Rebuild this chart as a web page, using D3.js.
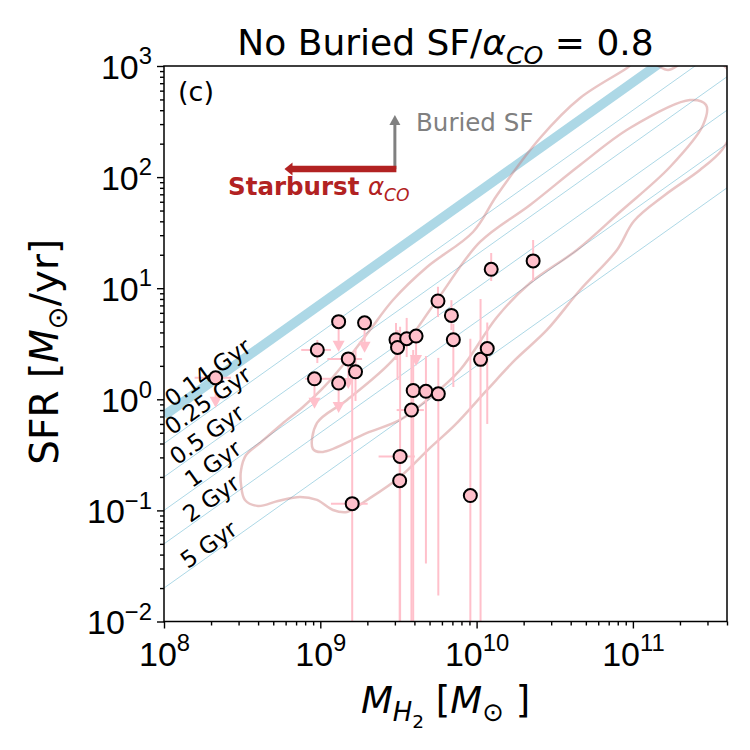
<!DOCTYPE html>
<html>
<head>
<meta charset="utf-8">
<script src="https://cdn.jsdelivr.net/npm/d3@7"></script>
<style>
  body { margin: 0; background: #ffffff; }
  svg { font-family: 'DejaVu Sans', sans-serif; }
</style>
</head>
<body>
<div id="chart"></div>
<script>
// molecular gas mass [Msun] and star formation rate [Msun/yr]
var massH2 = [2.14e8, 9.57e8, 9.18e8, 1.31e9, 1.92e9, 1.51e9, 1.68e9, 1.31e9, 3.05e9, 3.12e9, 3.57e9, 4.10e9, 3.93e9, 4.74e9,
  5.69e9, 3.83e9, 3.24e9, 3.22e9, 9.12e9, 1.60e9, 5.66e9, 6.90e9, 7.10e9, 1.06e10, 1.17e10, 1.24e10, 2.30e10];
var sfr = [1.56, 2.78, 1.53, 5.0, 4.88, 2.31, 1.77, 1.40, 3.44, 2.93, 3.51, 3.71, 1.20, 1.18,
  1.12, 0.80, 0.306, 0.185, 0.136, 0.115, 7.67, 5.69, 3.44, 2.29, 2.86, 14.8, 17.6];
var massLo = [1.57e8, 7.55e8, 7.98e8, null, null, 1.11e9, null, null, null, null, null, null, null, null,
  null, 3.08e9, 2.36e9, null, null, 1.17e9, null, null, null, null, null, null, null];
var massHi = [2.68e8, 1.17e9, 1.17e9, null, null, 1.85e9, null, null, null, null, null, null, null, null,
  null, 4.6e9, 4.03e9, null, null, 2.01e9, null, null, null, null, null, null, null];
var sfrLo = [null, 2.12, null, null, null, null, 0.966, null, 2.26, 1.49, 2.4, null, 0.001, 0.0332,
  0.0171, 0.001, 0.001, 0.001, 0.001, 0.001, 5.5, 4.2, 1.29, 0.001, 0.60, 11.6, 11.6];
var sfrHi = [null, 3.42, null, null, null, null, 2.84, null, 4.86, 4.2, 5.4, null, 2.78, 2.45,
  2.36, 2.5, 4.5, 0.31, 3.5, 1.56, 10.3, 7.8, 4.76, 8.0, 4.91, 20.7, 27.2];
var upperLimit = [1, 0, 1, 1, 1, 1, 0, 1, 0, 0, 0, 1, 0, 0,
  0, 0, 0, 0, 0, 0, 0, 0, 0, 0, 0, 0, 0];

// depletion time lines
var depletionTimes = [0.14, 0.25, 0.5, 1, 2, 5];
var depletionLabels = ['0.14 Gyr', '0.25 Gyr', '0.5 Gyr', '1 Gyr', '2 Gyr', '5 Gyr'];
var labelMass = [1.125e8, 1.125e8, 1.21e8, 1.51e8, 1.47e8, 1.42e8];

// density contours of the comparison sample, [log M, log SFR]
var outerContour = [[8.493,-0.636],[8.525,-0.501],[8.614,-0.393],[8.755,-0.222],[8.889,-0.069],[9.030,0.120],
  [9.171,0.354],[9.318,0.624],[9.465,0.894],[9.683,1.191],[9.977,1.506],[10.131,1.839],[10.406,2.352],
  [10.662,2.712],[10.962,2.982],[11.045,3.072],[11.141,3.018],[11.225,2.964],[11.301,3.018],[11.429,3.144],
  [11.717,2.739],[11.653,2.469],[11.570,2.244],[11.429,2.064],[11.205,1.839],[11.007,1.605],[10.898,1.344],
  [10.662,0.984],[10.450,0.624],[10.246,0.354],[10.067,0.084],[9.862,-0.231],[9.702,-0.438],[9.510,-0.699],
  [9.299,-0.906],[9.171,-1.014],[9.081,-0.996],[8.979,-0.906],[8.870,-0.879],[8.729,-0.915],[8.601,-0.960],
  [8.518,-0.906],[8.493,-0.771]];
var innerContour = [[8.953,-0.447],[8.979,-0.213],[9.171,-0.006],[9.465,0.354],[9.747,0.894],[10.022,1.416],
  [10.342,1.749],[10.662,2.109],[10.981,2.442],[11.365,2.694],[11.468,2.649],[11.449,2.469],[11.237,2.091],
  [10.917,1.686],[10.642,1.344],[10.342,1.047],[10.131,0.741],[9.894,0.264],[9.683,-0.006],[9.510,-0.186],
  [9.299,-0.303],[9.017,-0.474]];

// annotation arrows
var arrowOrigin = [3e9, 118];
var starburstMass = 5.9e8;
var buriedSfr = 362;

var xTickValues = [1e8, 1e9, 1e10, 1e11];
var xTickExponents = ['8', '9', '10', '11'];
var yTickValues = [1e-2, 1e-1, 1e0, 1e1, 1e2, 1e3];
var yTickExponents = ['\u22122', '\u22121', '0', '1', '2', '3'];

var margin = { top: 66, right: 23, bottom: 128.5, left: 164 };
var width = 750 - margin.left - margin.right;
var height = 750 - margin.top - margin.bottom;
var pink = '#ffc0cb';
var contourColor = 'rgb(200,110,110)';

var x = d3.scaleLog().domain([1e8, 4e11]).range([0, width]);
var y = d3.scaleLog().domain([1e-2, 1e3]).range([height, 0]);

var svg = d3.select('#chart').append('svg')
    .attr('width', 750)
    .attr('height', 750)
  .append('g')
    .attr('transform', 'translate(' + margin.left + ',' + margin.top + ')');

svg.append('defs').append('clipPath')
    .attr('id', 'plot-clip')
  .append('rect')
    .attr('width', width)
    .attr('height', height);

// text with sub/superscripts, parts = {t, level, italic, bold}
function richText(sel, parts, fontSize) {
  var text = sel.append('text').attr('font-size', fontSize);
  var offsets = { '0': 0, '1': -0.42, '-1': 0.24, '-2': 0.42 };
  var sizes = { '0': 1, '1': 0.7, '-1': 0.7, '-2': 0.5 };
  var current = 0;
  parts.forEach(function(p) {
    var level = p.level || 0;
    var off = offsets[level] * fontSize;
    text.append('tspan')
      .attr('dy', off - current)
      .attr('font-size', sizes[level] * fontSize)
      .attr('font-style', p.italic ? 'italic' : 'normal')
      .attr('font-weight', p.bold ? 'bold' : 'normal')
      .text(p.t);
    current = off;
  });
  return text;
}

var plot = svg.append('g').attr('clip-path', 'url(#plot-clip)');

// depletion time lines
var massRange = x.domain();
var lineGen = d3.line()
  .x(function(d) { return x(d[0]); })
  .y(function(d) { return y(d[1]); });

plot.selectAll('path.depletion')
    .data(depletionTimes)
  .enter().append('path')
    .attr('class', 'depletion')
    .attr('d', function(t) {
      return lineGen(massRange.map(function(m) { return [m, m / (t * 1e9)]; }));
    })
    .attr('fill', 'none')
    .attr('stroke', '#add8e6')
    .attr('stroke-width', function(t, i) { return i == 0 ? 9.5 : 1; });

// contours
var contourLine = d3.line()
  .x(function(d) { return x(Math.pow(10, d[0])); })
  .y(function(d) { return y(Math.pow(10, d[1])); })
  .curve(d3.curveCatmullRomClosed.alpha(0.5));

plot.selectAll('path.contour')
    .data([outerContour, innerContour])
  .enter().append('path')
    .attr('class', 'contour')
    .attr('d', contourLine)
    .attr('fill', 'none')
    .attr('stroke', contourColor)
    .attr('stroke-opacity', 0.4)
    .attr('stroke-width', 2.5);

// error bars
var points = massH2.map(function(m, i) {
  return { m: m, s: sfr[i], mLo: massLo[i], mHi: massHi[i], sLo: sfrLo[i], sHi: sfrHi[i], lim: upperLimit[i] };
});

plot.selectAll('line.xerr')
    .data(points.filter(function(d) { return d.mLo != null; }))
  .enter().append('line')
    .attr('class', 'xerr')
    .attr('x1', function(d) { return x(d.mLo); })
    .attr('x2', function(d) { return x(d.mHi); })
    .attr('y1', function(d) { return y(d.s); })
    .attr('y2', function(d) { return y(d.s); })
    .attr('stroke', pink)
    .attr('stroke-width', 2);

plot.selectAll('line.yerr')
    .data(points.filter(function(d) { return d.sLo != null || d.sHi != null; }))
  .enter().append('line')
    .attr('class', 'yerr')
    .attr('x1', function(d) { return x(d.m); })
    .attr('x2', function(d) { return x(d.m); })
    .attr('y1', function(d) { return y(d.sLo != null ? d.sLo : d.s); })
    .attr('y2', function(d) { return y(d.sHi != null ? d.sHi : d.s); })
    .attr('stroke', pink)
    .attr('stroke-width', 2);

// upper limit arrows
var limits = points.filter(function(d) { return d.lim; });
plot.selectAll('line.lim')
    .data(limits)
  .enter().append('line')
    .attr('class', 'lim')
    .attr('x1', function(d) { return x(d.m); })
    .attr('x2', function(d) { return x(d.m); })
    .attr('y1', function(d) { return y(d.s); })
    .attr('y2', function(d) { return y(d.s) + 20; })
    .attr('stroke', pink)
    .attr('stroke-width', 2);

plot.selectAll('path.lim')
    .data(limits)
  .enter().append('path')
    .attr('class', 'lim')
    .attr('d', function(d) {
      var cx = x(d.m), ty = y(d.s) + 30;
      return 'M' + (cx - 6) + ',' + (ty - 11) + 'L' + (cx + 6) + ',' + (ty - 11) + 'L' + cx + ',' + ty + 'Z';
    })
    .attr('fill', pink);

// points
plot.selectAll('circle.galaxy')
    .data(points)
  .enter().append('circle')
    .attr('class', 'galaxy')
    .attr('cx', function(d) { return x(d.m); })
    .attr('cy', function(d) { return y(d.s); })
    .attr('r', 6.5)
    .attr('fill', pink)
    .attr('stroke', '#000000')
    .attr('stroke-width', 2);

// depletion labels
var angle = -Math.atan((y(1) - y(10)) / (x(1e9) - x(1e8))) * 180 / Math.PI;
svg.selectAll('text.gyr')
    .data(depletionTimes)
  .enter().append('text')
    .attr('class', 'gyr')
    .attr('transform', function(t, i) {
      var px = x(labelMass[i]);
      var py = y(labelMass[i] / (t * 1e9)) - 2;
      return 'translate(' + px + ',' + py + ') rotate(' + angle + ')';
    })
    .attr('font-size', 23)
    .attr('fill', '#000000')
    .text(function(t, i) { return depletionLabels[i]; });

// annotation arrows
var ox = x(arrowOrigin[0]), oy = y(arrowOrigin[1]);
var gx = ox, gy = y(buriedSfr);
svg.append('line')
  .attr('x1', gx).attr('x2', gx)
  .attr('y1', oy).attr('y2', gy + 9)
  .attr('stroke', '#808080')
  .attr('stroke-width', 3);
svg.append('path')
  .attr('d', 'M' + (gx - 5.5) + ',' + (gy + 10) + 'L' + (gx + 5.5) + ',' + (gy + 10) + 'L' + gx + ',' + gy + 'Z')
  .attr('fill', '#808080');

var rx = x(starburstMass);
svg.append('line')
  .attr('x1', ox + 1.5).attr('x2', rx + 7)
  .attr('y1', oy).attr('y2', oy)
  .attr('stroke', '#b22222')
  .attr('stroke-width', 6.5);
svg.append('path')
  .attr('d', 'M' + (rx + 8) + ',' + (oy - 6.5) + 'L' + (rx + 8) + ',' + (oy + 6.5) + 'L' + rx + ',' + oy + 'Z')
  .attr('fill', '#b22222');

richText(svg, [{ t: 'Buried SF' }], 24.5)
  .attr('x', x(4.1e9))
  .attr('y', y(260))
  .attr('fill', '#808080');

richText(svg, [{ t: 'Starburst ', bold: true }, { t: '\u03b1', italic: true }, { t: 'CO', italic: true, level: -1 }], 24.5)
  .attr('x', x(2.57e8))
  .attr('y', y(69))
  .attr('fill', '#b22222');

svg.append('text')
  .attr('x', 14)
  .attr('y', 35)
  .attr('font-size', 27)
  .text('(c)');

// axes
var minorX = [], minorY = [];
[1e8, 1e9, 1e10, 1e11].forEach(function(d) {
  d3.range(2, 10).forEach(function(k) { if (d * k <= 4e11) minorX.push(d * k); });
});
[1e-2, 1e-1, 1e0, 1e1, 1e2].forEach(function(d) {
  d3.range(2, 10).forEach(function(k) { minorY.push(d * k); });
});

var xAxis = svg.append('g')
  .attr('transform', 'translate(0,' + height + ')')
  .call(d3.axisBottom(x).tickValues(xTickValues).tickSize(7).tickFormat(''));
svg.append('g')
  .attr('transform', 'translate(0,' + height + ')')
  .call(d3.axisBottom(x).tickValues(minorX).tickSize(4).tickFormat(''));
var yAxis = svg.append('g')
  .call(d3.axisLeft(y).tickValues(yTickValues).tickSize(7).tickFormat(''));
svg.append('g')
  .call(d3.axisLeft(y).tickValues(minorY).tickSize(4).tickFormat(''));

svg.selectAll('.domain').remove();
svg.selectAll('.tick line').attr('stroke', '#000000').attr('stroke-width', 1.4);

xAxis.selectAll('.tick').each(function(d, i) {
  richText(d3.select(this), [{ t: '10' }, { t: xTickExponents[i], level: 1 }], 34)
    .attr('y', 44)
    .attr('text-anchor', 'middle')
    .attr('fill', '#000000');
});
yAxis.selectAll('.tick').each(function(d, i) {
  richText(d3.select(this), [{ t: '10' }, { t: yTickExponents[i], level: 1 }], 34)
    .attr('x', -12)
    .attr('y', 12)
    .attr('text-anchor', 'end')
    .attr('fill', '#000000');
});

svg.append('rect')
  .attr('width', width)
  .attr('height', height)
  .attr('fill', 'none')
  .attr('stroke', '#000000')
  .attr('stroke-width', 1.5);

// titles
richText(svg, [{ t: 'No Buried SF/' }, { t: '\u03b1', italic: true }, { t: 'CO', italic: true, level: -1 }, { t: ' = 0.8' }], 36)
  .attr('x', width / 2)
  .attr('y', -11)
  .attr('text-anchor', 'middle');

richText(svg, [{ t: 'M', italic: true }, { t: 'H', italic: true, level: -1 }, { t: '2', level: -2 }, { t: ' [' }, { t: 'M', italic: true }, { t: '\u2299', level: -1 }, { t: ' ]' }], 37)
  .attr('x', width / 2)
  .attr('y', height + 91)
  .attr('text-anchor', 'middle');

richText(svg, [{ t: 'SFR [' }, { t: 'M', italic: true }, { t: '\u2299', level: -1 }, { t: '/yr]' }], 39)
  .attr('transform', 'translate(-106,' + (height / 2 + 8) + ') rotate(-90)')
  .attr('text-anchor', 'middle');
</script>
</body>
</html>
